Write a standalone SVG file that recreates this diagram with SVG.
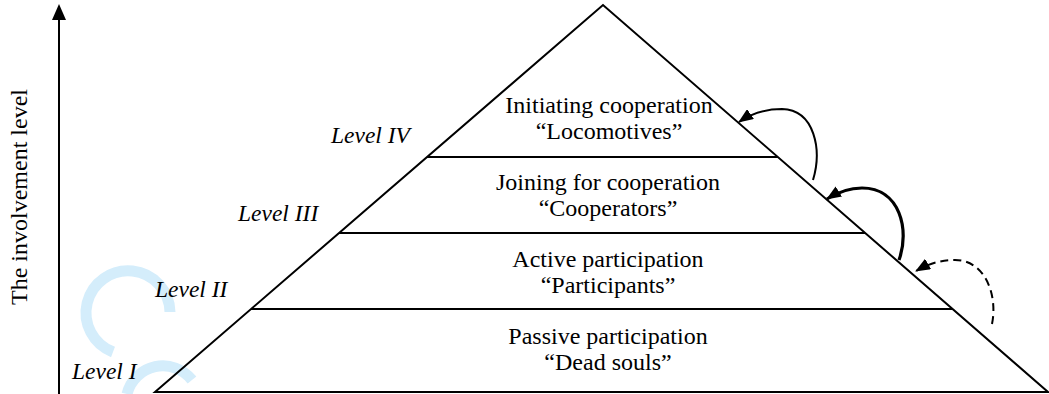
<svg xmlns="http://www.w3.org/2000/svg" width="1049" height="394" viewBox="0 0 1049 394">
<style>
.t{font-family:"Liberation Serif","Times New Roman",serif;font-size:24px;fill:#000;text-anchor:middle}
.lv{font-family:"Liberation Serif","Times New Roman",serif;font-size:23.5px;font-style:italic;fill:#000}
.ln{stroke:#000;stroke-width:2;fill:none}
.wm{stroke:#d4edfb;stroke-width:11;fill:none}
</style>
<defs>
<marker id="ah" markerWidth="15" markerHeight="12" refX="14" refY="6" orient="auto" markerUnits="userSpaceOnUse" viewBox="0 0 15 12">
<path d="M0,0 L15,6 L0,12 z" fill="#000"/>
</marker>
</defs>
<g id="watermark">
<path class="wm" d="M170,312 A42,42 0 1 0 113,352"/>
<path class="wm" d="M127,394 A37,37 0 0 1 192,380"/>
</g>
<g id="axis">
<line class="ln" x1="59" y1="394" x2="59" y2="18"/>
<path d="M52,20 L59,4 L66,20 z" fill="#000"/>
<text class="t" transform="translate(27,197) rotate(-90)" font-size="22.5">The involvement level</text>
</g>
<g id="pyramid">
<path class="ln" d="M155,392 L603,5 L1048,392 Z"/>
</g>
<g id="level4">
<line class="ln" x1="427" y1="157" x2="778" y2="157"/>
<text class="t" x="609" y="113">Initiating cooperation</text>
<text class="t" x="609" y="139">“Locomotives”</text>
<text class="lv" x="331" y="143">Level IV</text>
</g>
<g id="level3">
<line class="ln" x1="339" y1="233" x2="865" y2="233"/>
<text class="t" x="608" y="190">Joining for cooperation</text>
<text class="t" x="608" y="216">“Cooperators”</text>
<text class="lv" x="238" y="221">Level III</text>
</g>
<g id="level2">
<line class="ln" x1="251" y1="309" x2="953" y2="309"/>
<text class="t" x="608" y="267">Active participation</text>
<text class="t" x="608" y="293">“Participants”</text>
<text class="lv" x="155" y="297">Level II</text>
</g>
<g id="level1">
<text class="t" x="608" y="344">Passive participation</text>
<text class="t" x="608" y="370">“Dead souls”</text>
<text class="lv" x="72" y="379">Level I</text>
</g>
<g id="connectors">
<path class="ln" d="M813,180 C822,150 815,110 782,109 C766,109 752,113 739,122" marker-end="url(#ah)"/>
<path d="M899,260 C910,230 900,188 862,188 C848,188 838,192 827,199" stroke="#000" stroke-width="3.2" fill="none" marker-end="url(#ah)"/>
<path class="ln" stroke-dasharray="8,5" d="M992,324 C998,295 985,260 955,260 C940,260 928,264 916,271" marker-end="url(#ah)"/>
</g>
</svg>
